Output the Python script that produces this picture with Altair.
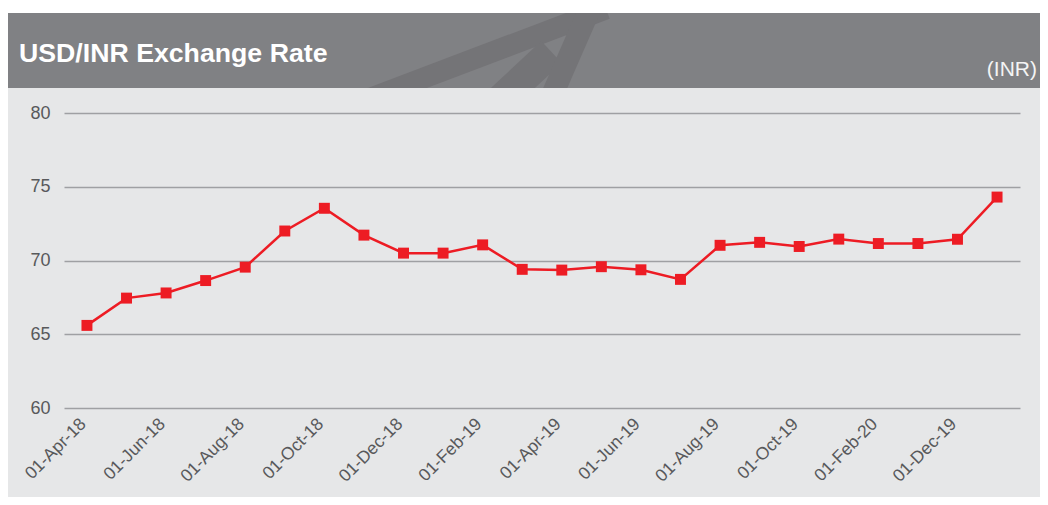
import altair as alt
import pandas as pd

dates = ["01-Apr-18", "01-May-18", "01-Jun-18", "01-Jul-18", "01-Aug-18", "01-Sep-18",
         "01-Oct-18", "01-Nov-18", "01-Dec-18", "01-Jan-19", "01-Feb-19", "01-Mar-19",
         "01-Apr-19", "01-May-19", "01-Jun-19", "01-Jul-19", "01-Aug-19", "01-Sep-19",
         "01-Oct-19", "01-Nov-19", "01-Feb-20", "01-Jan-20", "01-Dec-19", "01-Mar-20"]
rates = [65.6, 67.45, 67.8, 68.64, 69.55, 72.0, 73.54, 71.72, 70.5, 70.5, 71.06, 69.4,
         69.35, 69.58, 69.37, 68.72, 71.03, 71.23, 70.95, 71.45, 71.15, 71.15, 71.44, 74.3]
tick_labels = dates[0::2]
y_ticks = [60, 65, 70, 75, 80]
title_text = "USD/INR Exchange Rate"
unit_text = "(INR)"

df = pd.DataFrame({"date": dates, "rate": rates})
one = pd.DataFrame({"k": [0]})

W, H = 956, 295
RED = "#ed1c24"
LABEL = "#58595b"
PANEL = "#e6e7e8"
HEAD = "#808184"
SWOOSH = "#747477"
FONT = "Liberation Sans"

x_enc = alt.X(
    "date:N", sort=dates,
    scale=alt.Scale(type="point", padding=0.58),
    axis=alt.Axis(values=tick_labels, labelAngle=-45, labelAlign="right",
                  labelBaseline="middle", labelFontSize=17.5, labelColor=LABEL,
                  labelFont=FONT, labelPadding=13, labelOffset=-4, ticks=False,
                  domain=False, grid=False, title=None, labelOverlap=False),
)
y_enc = alt.Y(
    "rate:Q",
    scale=alt.Scale(domain=[60, 80], nice=False, zero=False),
    axis=alt.Axis(values=y_ticks, grid=True, gridColor="#9fa0a3", gridWidth=1.5,
                  domain=False, ticks=False, labelFontSize=18, labelColor=LABEL,
                  labelFont=FONT, labelPadding=14, title=None),
)

base = alt.Chart(df)
line = base.mark_line(color=RED, strokeWidth=2.5).encode(x=x_enc, y=y_enc)
pts = base.mark_point(shape="square", filled=True, size=120, color=RED, opacity=1).encode(
    x=alt.X("date:N", sort=dates), y="rate:Q")

header = alt.Chart(one).mark_rect(color=HEAD).encode(
    x=alt.value(-56), x2=alt.value(1000), y=alt.value(-100), y2=alt.value(-25))


def band(x1, y1, x2, y2, w):
    return alt.Chart(one).mark_rule(color=SWOOSH, strokeWidth=w, strokeCap="butt").encode(
        x=alt.value(x1), y=alt.value(y1), x2=alt.value(x2), y2=alt.value(y2))


swoosh_a = band(299, -12, 542, -104, 21)
swoosh_b = band(436, -13, 487.5, -61, 30)
swoosh_c = band(486, -13, 527.5, -108, 22)

top_white = alt.Chart(one).mark_rect(color="white").encode(
    x=alt.value(-60), x2=alt.value(1000), y=alt.value(-110), y2=alt.value(-100))
cover = alt.Chart(one).mark_rect(color=PANEL).encode(
    x=alt.value(250), x2=alt.value(600), y=alt.value(-25), y2=alt.value(-1))

title = alt.Chart(one).mark_text(
    align="left", baseline="alphabetic", font=FONT, fontSize=26.7, fontWeight="bold",
    color="white").encode(x=alt.value(-45), y=alt.value(-51), text=alt.value(title_text))
unit = alt.Chart(one).mark_text(
    align="right", baseline="alphabetic", font=FONT, fontSize=21,
    color="#f4f4f4").encode(x=alt.value(973), y=alt.value(-37), text=alt.value(unit_text))

chart = alt.layer(header, swoosh_a, swoosh_b, swoosh_c, top_white, cover,
                  title, unit, line, pts).properties(
    width=W, height=H,
    padding={"left": 56, "top": 105, "right": 20, "bottom": 89},
    autosize=alt.AutoSizeParams(type="none"),
    background=PANEL,
).configure_view(stroke=None)

chart.save("out.html", embed_options={"renderer": "svg", "actions": False})
